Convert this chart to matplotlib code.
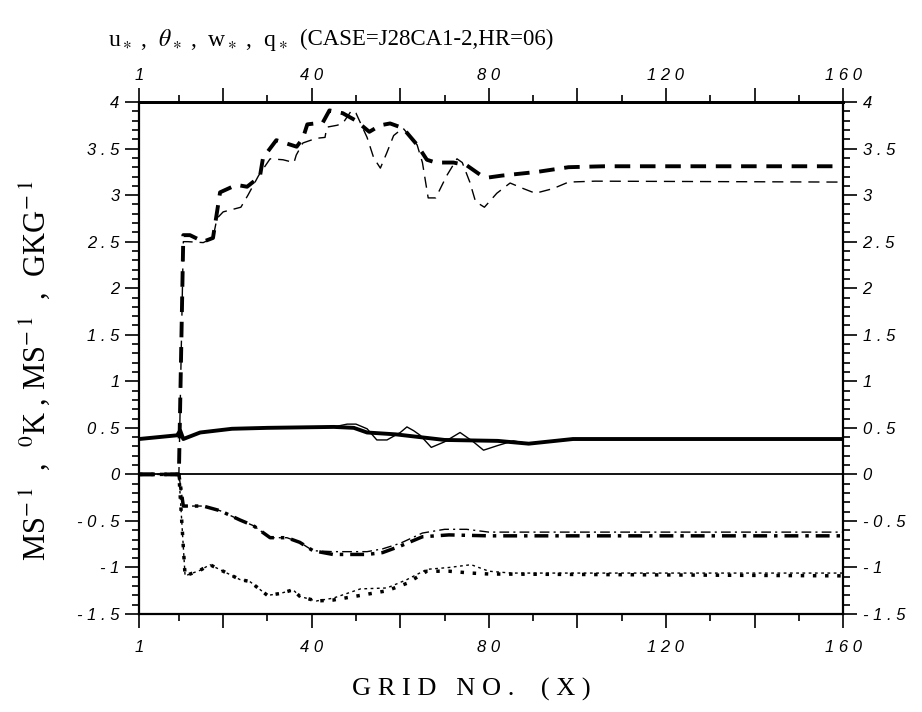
import numpy as np
import matplotlib
matplotlib.use('Agg')
import matplotlib.pyplot as plt

plt.rcParams['mathtext.fontset'] = 'stix'

# ---- data (grid no. x, value) ----
dash_thick_x = [1, 10, 11, 12.5, 15.5, 17.7, 19.3, 23, 25.4, 28.3, 29, 32, 36.6, 38, 39, 42.5, 44, 47, 50, 53,
                55.5, 57.7, 60.6, 63.8, 66, 68, 72, 75, 78, 80, 83, 91, 98, 106, 160]
dash_thick_y = [0, 0, 2.57, 2.57, 2.50, 2.54, 3.03, 3.11, 3.09, 3.20, 3.40, 3.59, 3.52, 3.61, 3.76, 3.78, 3.91,
                3.88, 3.80, 3.68, 3.75, 3.77, 3.72, 3.54, 3.38, 3.35, 3.35, 3.32, 3.22, 3.19, 3.21, 3.25, 3.30,
                3.31, 3.31]

dash_thin_x = [1, 10, 11, 12, 15.5, 17.7, 18.6, 20, 24, 25.6, 28, 30.6, 33.5, 36, 36.5, 38, 41, 43, 43.4, 45.7,
               47, 49, 50, 52.5, 54, 55.5, 57, 58.5, 60.6, 63.8, 65, 66.3, 68, 70.5, 72.8, 74, 75.7, 77, 79,
               81.8, 84.8, 87.8, 90.5, 94.5, 98, 104, 160]
dash_thin_y = [0, 0, 2.50, 2.50, 2.49, 2.54, 2.75, 2.82, 2.87, 3.00, 3.21, 3.39, 3.38, 3.35, 3.43, 3.56, 3.61,
               3.62, 3.73, 3.75, 3.77, 3.91, 3.88, 3.62, 3.40, 3.29, 3.46, 3.64, 3.72, 3.54, 3.35, 2.97, 2.97,
               3.21, 3.39, 3.35, 3.14, 2.93, 2.87, 3.02, 3.13, 3.07, 3.02, 3.07, 3.14, 3.15, 3.14]

solid_thick_x = [1, 9.6, 10.3, 11, 14.8, 22, 30, 45, 49.5, 52.5, 59, 64.5, 70, 82, 89, 99, 160]
solid_thick_y = [0.38, 0.42, 0.47, 0.38, 0.45, 0.49, 0.50, 0.51, 0.50, 0.45, 0.43, 0.40, 0.37, 0.36, 0.33,
                 0.38, 0.38]

solid_thin_x = [1, 9.6, 10.3, 11, 14.8, 22, 30, 45, 48, 50, 52.5, 54.7, 57, 60, 61.5, 63, 64.5, 67, 70, 73.5,
                76.5, 78.8, 82, 85.5, 89, 99, 160]
solid_thin_y = [0.38, 0.42, 0.47, 0.38, 0.45, 0.49, 0.50, 0.51, 0.54, 0.54, 0.49, 0.37, 0.37, 0.45, 0.51,
                0.47, 0.42, 0.29, 0.35, 0.45, 0.35, 0.26, 0.31, 0.36, 0.33, 0.38, 0.38]

dashdot_thick_x = [1, 10, 11, 15.5, 19.3, 23.8, 26.8, 30.6, 34.4, 37.3, 40.3, 44.8, 52.5, 56, 60, 65, 71, 80, 160]
dashdot_thick_y = [0, 0, -0.34, -0.34, -0.39, -0.49, -0.55, -0.68, -0.68, -0.73, -0.82, -0.86, -0.86, -0.84,
                   -0.77, -0.67, -0.65, -0.66, -0.66]

dashdot_thin_x = [1, 10, 11, 15.5, 19.3, 23.8, 26.8, 30.6, 34.4, 37.3, 40.3, 44.8, 52.5, 56, 60, 65, 70, 75,
                  80, 160]
dashdot_thin_y = [0, 0, -0.34, -0.34, -0.39, -0.49, -0.55, -0.68, -0.68, -0.73, -0.82, -0.83, -0.83, -0.80,
                  -0.74, -0.63, -0.59, -0.59, -0.62, -0.62]

dot_thick_x = [1, 10, 11.4, 14.8, 17, 20, 23.8, 26, 30, 32.8, 35.8, 37.3, 41, 44.8, 51, 57, 61.5, 66, 71, 76,
               80, 160]
dot_thick_y = [0, 0, -1.09, -1.03, -0.97, -1.04, -1.13, -1.15, -1.30, -1.28, -1.24, -1.31, -1.36, -1.35, -1.30,
               -1.25, -1.17, -1.04, -1.04, -1.06, -1.07, -1.09]

dot_thin_x = [1, 10, 11.4, 14.8, 17, 20, 23.8, 26, 30, 32.8, 35.8, 37.3, 41, 44.8, 51, 57, 61.5, 66, 71, 76,
              80, 85, 160]
dot_thin_y = [0, 0, -1.09, -1.03, -0.97, -1.04, -1.13, -1.15, -1.30, -1.28, -1.24, -1.31, -1.36, -1.33, -1.23,
              -1.22, -1.13, -1.02, -1.00, -0.97, -1.04, -1.06, -1.06]

x_ticks = [1, 20, 40, 60, 80, 100, 120, 140, 160]
x_labels = ['1', '', '4 0', '', '8 0', '', '1 2 0', '', '1 6 0']
y_ticks = [-1.5, -1, -0.5, 0, 0.5, 1, 1.5, 2, 2.5, 3, 3.5, 4]
y_labels = ['- 1 . 5', '- 1', '- 0 . 5', '0', '0 . 5', '1', '1 . 5', '2', '2 . 5', '3', '3 . 5', '4']

title_vars = r'u$_\ast$ ,  $\theta_\ast$ ,  w$_\ast$ ,  q$_\ast$'
title_case = '(CASE=J28CA1-2,HR=06)'
ylabel = r'MS$^{-\;1}$  ,  $^{0}$K , MS$^{-\;1}$  ,  GKG$^{-\;1}$'
xlabel = 'G R I D   N O .    ( X )'

fig = plt.figure(figsize=(9.22, 7.12), dpi=100)
ax = fig.add_axes([0.1508, 0.1376, 0.7636, 0.7191])

# thick / thin pairs
ax.plot(dash_thick_x, dash_thick_y, color='k', lw=2.8, dashes=(4, 2.5))
ax.plot(dash_thin_x, dash_thin_y, color='k', lw=1.0, dashes=(8, 5))
ax.plot(solid_thick_x, solid_thick_y, color='k', lw=2.8)
ax.plot(solid_thin_x, solid_thin_y, color='k', lw=1.0)
ax.plot(dashdot_thick_x, dashdot_thick_y, color='k', lw=2.5, dashes=(4, 2, 1, 2))
ax.plot(dashdot_thin_x, dashdot_thin_y, color='k', lw=1.0, dashes=(7, 3, 1.5, 3))
ax.plot(dot_thick_x, dot_thick_y, color='k', lw=2.5, dashes=(1, 2.5))
ax.plot(dot_thin_x, dot_thin_y, color='k', lw=1.0, dashes=(2, 2.5))

ax.axhline(0, color='k', lw=1.3)

ax.set_xlim(1, 160)
ax.set_ylim(-1.5, 4)
ax.set_xticks(x_ticks)
ax.set_xticklabels(x_labels)
ax.set_xticks(np.arange(10, 160, 20), minor=True)
ax.set_yticks(y_ticks)
ax.set_yticklabels(y_labels)
ax.set_yticks(np.arange(-1.5, 4.01, 0.1), minor=True)

ax.tick_params(which='both', direction='out', right=True, labelright=True, width=1.2, color='k')
ax.tick_params(which='major', length=10)
ax.tick_params(axis='x', which='major', pad=9)
ax.tick_params(axis='y', which='major', pad=4)
ax.tick_params(which='minor', length=5)

top = ax.secondary_xaxis('top')
top.set_xticks(x_ticks)
top.set_xticklabels(x_labels)
top.set_xticks(np.arange(10, 160, 20), minor=True)
top.tick_params(which='both', direction='out', width=1.2)
top.tick_params(which='major', length=10, pad=4)
top.tick_params(which='minor', length=5)
top.spines['top'].set_linewidth(2.0)

for lab in ax.get_xticklabels() + ax.get_yticklabels() + top.get_xticklabels():
    lab.set_fontfamily('Liberation Sans')
    lab.set_fontstyle('italic')
    lab.set_fontsize(12)
for t in ax.yaxis.get_major_ticks():
    t.label2.set_fontfamily('Liberation Sans')
    t.label2.set_fontstyle('italic')
    t.label2.set_fontsize(12)
for side in ['top', 'bottom', 'left', 'right']:
    ax.spines[side].set_linewidth(1.6)
ax.spines['top'].set_linewidth(2.0)

fig.text(108 / 922, 0.944, title_vars, ha='left', va='center', fontsize=17, family='Liberation Serif')
fig.text(300 / 922, 0.944, title_case, ha='left', va='center', fontsize=16.5, family='Liberation Serif')
fig.text(0.038, 0.48, ylabel, ha='center', va='center', rotation=90, fontsize=22, family='Liberation Serif')
fig.text(471 / 922, 0.031, xlabel, ha='center', va='center', fontsize=19, family='Liberation Serif')

fig.savefig('out.png', dpi=100)
